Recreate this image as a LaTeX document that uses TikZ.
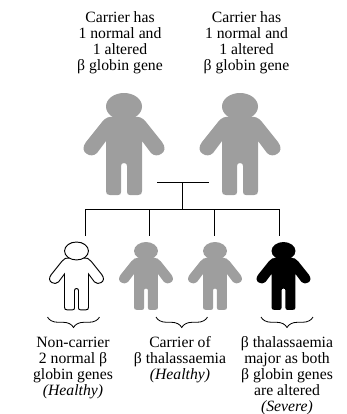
\documentclass[tikz,border=0pt]{standalone}
\usepackage{fontspec}
\setmainfont{Liberation Serif}
\usetikzlibrary{positioning, decorations.pathreplacing}
\definecolor{carriergray}{RGB}{158,158,158}
\tikzset{
    pics/person/.style={code={
        \path[pic actions] (-10,24) -- (10,24) .. controls (15,23) and (19,25) .. (22,29)
            -- (38,49) .. controls (42,54) and (41,59) .. (37,61)
            .. controls (34,63) and (30,63) .. (27,60)
            -- (18,48) -- (18,98) .. controls (18,101) and (17,102) .. (14,102)
            -- (6,102) .. controls (4,102) and (3,101) .. (3,99)
            -- (3,73) .. controls (3,71) and (2,70) .. (0,70)
            .. controls (-2,70) and (-3,71) .. (-3,73)
            -- (-3,99) .. controls (-3,101) and (-4,102) .. (-6,102)
            -- (-14,102) .. controls (-17,102) and (-18,101) .. (-18,98)
            -- (-18,48) -- (-27,60) .. controls (-30,63) and (-34,63) .. (-37,61)
            .. controls (-41,59) and (-42,54) .. (-38,49)
            -- (-22,29) .. controls (-19,25) and (-15,23) .. (-10,24) -- cycle;
        \path[pic actions] (0,13.5) ellipse (18 and 13.5);
    }},
    carrierfig/.style={fill=carriergray},
    healthyfig/.style={fill=white, draw=black, line width=0.8pt},
    severefig/.style={fill=black},
    tree/.style={line width=0.8pt, black},
    bracket/.style={line width=0.7pt, decorate, decoration={brace, amplitude=9pt, aspect=0.5}},
    caption/.style={align=center, font=\fontsize{13.4}{13.65}\selectfont, anchor=north, inner sep=0pt}
}
\begin{document}
\begin{tikzpicture}[x=0.3mm, y=-0.3mm]
    \useasboundingbox (0,0) rectangle (347,414);

    % Parents
    \node[caption] (mumtext) at (120,11) {Carrier has\\1 normal and\\1 altered\\β globin gene};
    \node[caption] (dadtext) at (246.5,11) {Carrier has\\1 normal and\\1 altered\\β globin gene};
    \pic[carrierfig] at (124,93) {person};
    \pic[carrierfig] at (240,93) {person};

    % Children
    \pic[healthyfig, scale=0.665] at (76.5,242) {person};
    \pic[carrierfig, scale=0.665] at (146,242) {person};
    \pic[carrierfig, scale=0.665] at (215,242) {person};
    \pic[severefig, scale=0.665] at (283.5,242) {person};

    % Family lines
    \coordinate (coupleL) at (157,182);
    \coordinate (coupleR) at (208.5,182);
    \coordinate (coupleM) at (182,182);
    \coordinate (sibM) at (182,209);
    \coordinate (sibA) at (85,209);
    \coordinate (sibB) at (149.5,209);
    \coordinate (sibC) at (214,209);
    \coordinate (sibD) at (279,209);
    \coordinate (childA) at (85,236);
    \coordinate (childB) at (149.5,236);
    \coordinate (childC) at (214,236);
    \coordinate (childD) at (279,236);
    \draw[tree] (coupleL) -- (coupleR);
    \draw[tree] (coupleM) -- (sibM);
    \draw[tree] (childA) -- (sibA) -- (sibD) -- (childD);
    \draw[tree] (sibB) -- (childB);
    \draw[tree] (sibC) -- (childC);

    % Braces
    \coordinate (braceAl) at (47.5,317);
    \coordinate (braceAr) at (99.5,317);
    \coordinate (braceBl) at (156,317);
    \coordinate (braceBr) at (207.5,317);
    \coordinate (braceCl) at (261,317);
    \coordinate (braceCr) at (313,317);
    \draw[bracket] (braceAr) -- (braceAl);
    \draw[bracket] (braceBr) -- (braceBl);
    \draw[bracket] (braceCr) -- (braceCl);

    % Captions
    \node[caption] (noncarrier) at (73,336.5) {Non-carrier\\2 normal β\\globin genes\\\textit{(Healthy)}};
    \node[caption] (carrier) at (180,336.5) {Carrier of\\β thalassaemia\\\textit{(Healthy)}};
    \node[caption] (major) at (287,336.5) {β thalassaemia\\major as both\\β globin genes\\are altered\\\textit{(Severe)}};
\end{tikzpicture}
\end{document}
